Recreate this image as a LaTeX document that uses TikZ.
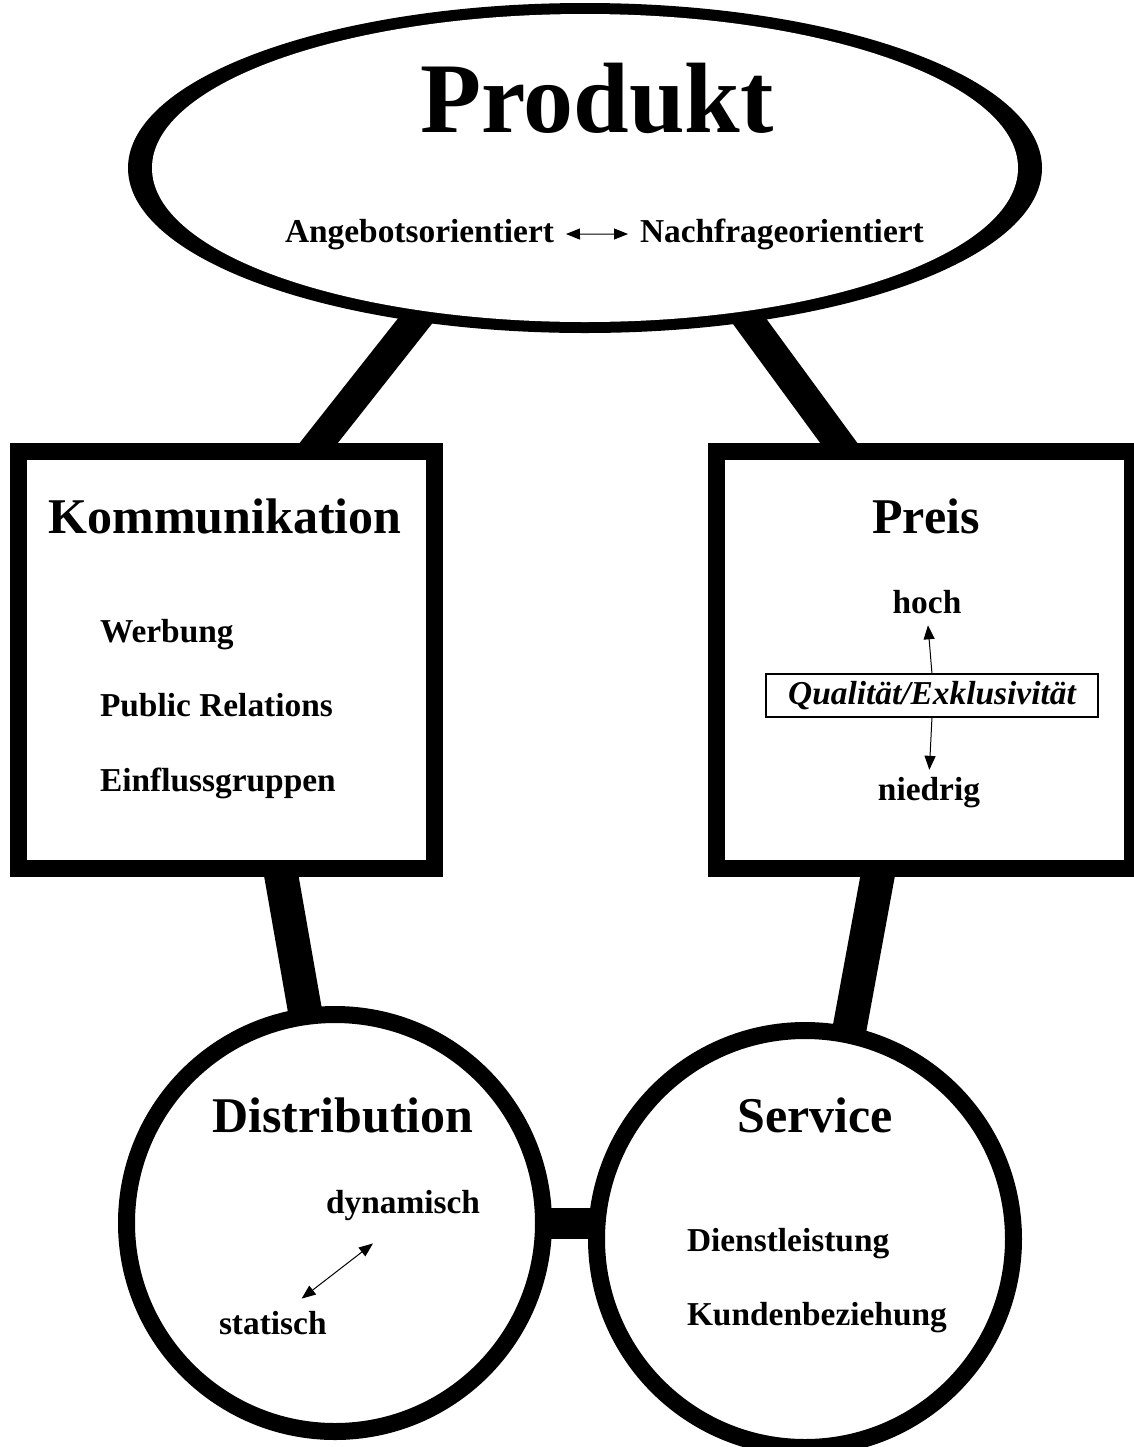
\documentclass[tikz,border=0pt]{standalone}
\usepackage{fontspec}
\setmainfont{Liberation Serif}
\usetikzlibrary{shapes.geometric, arrows.meta, positioning, calc, backgrounds}

\begin{document}
\begin{tikzpicture}[x=0.5pt, y=-0.5pt,
  every node/.style={inner sep=0pt, outer sep=0pt, font=\bfseries},
  titel/.style={font=\bfseries\fontsize{50}{56}\selectfont},
  kopf/.style={font=\bfseries\fontsize{25}{30}\selectfont},
  eintrag/.style={font=\bfseries\fontsize{16.7}{20}\selectfont},
  kasten/.style={draw, line width=8.5pt, fill=white, minimum width=208pt, minimum height=208.5pt},
  kreis/.style={circle, draw, line width=8.5pt, fill=white, minimum size=208.5pt},
  balken/.style={line width=16pt, shorten <=-14pt, shorten >=-14pt},
  pfeil/.style={line width=0.5pt},
  >={Triangle[length=7pt, width=5.5pt]}]
  \useasboundingbox (0,0) rectangle (1134,1447);

  % Produkt
  \node[ellipse, fill=black, minimum width=457pt, minimum height=165pt] (produkt) at (585,168) {};
  \node[ellipse, fill=white, minimum width=433pt, minimum height=154pt] (produktinnen) at (produkt.center) {};
  \node[titel, anchor=base] (produkttitel) at (597,132) {Produkt};
  \node[eintrag, anchor=base west] (angebot) at (285,242) {Angebotsorientiert};
  \node[eintrag, anchor=base west] (nachfrage) at (640,242) {Nachfrageorientiert};
  \draw[pfeil, <->, shorten <=6pt, shorten >=6pt] (angebot) -- (nachfrage);

  % Kommunikation
  \node[kasten] (komm) at (226.5,660) {};
  \node[kopf, anchor=base] (kommtitel) at (225,533) {Kommunikation};
  \node[eintrag, anchor=base west] (werbung) at (100,642) {Werbung};
  \node[eintrag, anchor=base west] (pr) at (100,716) {Public Relations};
  \node[eintrag, anchor=base west] (einfluss) at (100,791) {Einflussgruppen};

  % Preis
  \node[kasten] (preis) at (924,660) {};
  \node[kopf, anchor=base] (preistitel) at (926,533) {Preis};
  \node[eintrag, anchor=base] (hoch) at (927,613) {hoch};
  \node[draw, line width=0.6pt, fill=white, minimum width=166pt, minimum height=21.5pt,
        font=\bfseries\itshape\fontsize{16.7}{20}\selectfont] (qual) at (932,695.5) {Qualität/Exklusivität};
  \node[eintrag, anchor=base] (niedrig) at (929,800) {niedrig};
  \draw[pfeil, ->, shorten >=6pt] (qual.north) -- (hoch.south);
  \draw[pfeil, ->, shorten >=3.5pt] (qual.south) -- (niedrig.north);

  % Distribution
  \node[kreis] (dist) at (335,1223) {};
  \node[kopf, anchor=base] (disttitel) at (343,1132) {Distribution};
  \node[eintrag, anchor=base west] (dynamisch) at (326,1213) {dynamisch};
  \node[eintrag, anchor=base west] (statisch) at (219,1334) {statisch};
  \draw[pfeil, <->, shorten <=10pt, shorten >=19pt] ($(statisch.north)+(13,0)$) -- (dynamisch.south);

  % Service
  \node[kreis] (serv) at (805,1239) {};
  \node[kopf, anchor=base] (servtitel) at (815,1132) {Service};
  \node[eintrag, anchor=base west] (dienst) at (687,1251) {Dienstleistung};
  \node[eintrag, anchor=base west] (kunden) at (687,1325) {Kundenbeziehung};

  % Verbindungen
  \begin{scope}[on background layer]
    \draw[balken, line width=15pt] ($(komm.north)+(85.5,0)$) -- (produkt.222);
    \draw[balken, line width=15pt] ($(preis.north)+(-79,0)$) -- (produkt.317);
    \draw[balken, line width=17pt] ($(komm.south)+(53.5,0)$) -- (dist.98);
    \draw[balken, line width=17pt] ($(preis.south)+(-45,0)$) -- (serv.78);
    \draw[balken, line width=15.5pt] (dist.east) -- (dist.east -| serv.west);
  \end{scope}
\end{tikzpicture}
\end{document}
